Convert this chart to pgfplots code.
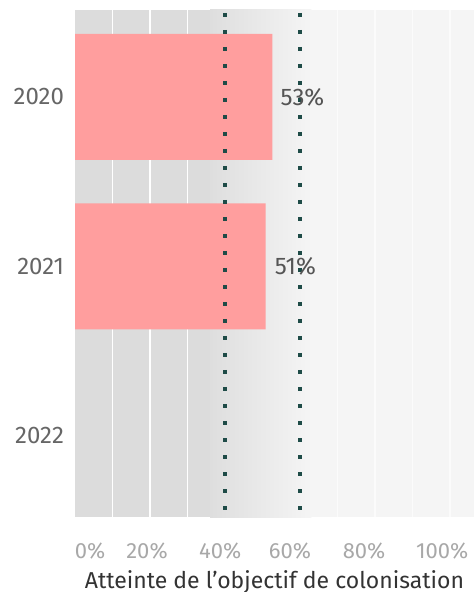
\documentclass[border=0pt]{standalone}
\usepackage{pgfplots}
\pgfplotsset{compat=1.18}
\usepackage{fontspec}
\setmainfont{Fira Sans}
\definecolor{barpink}{HTML}{FF9E9E}
\definecolor{bgdark}{HTML}{DCDCDC}
\definecolor{bglight}{HTML}{F5F5F5}
\definecolor{dotteal}{HTML}{1E4B47}
\definecolor{ticklab}{HTML}{A8A8A8}
\definecolor{yearlab}{HTML}{666666}
\definecolor{titlecol}{HTML}{333333}
\definecolor{vallab}{HTML}{555555}
\begin{document}
\begin{tikzpicture}
\begin{axis}[
  at={(0,0)}, anchor=south west,
  scale only axis,
  width=199.5pt, height=253.5pt,
  xmin=0, xmax=106.4,
  ymin=-0.513, ymax=2.478,
  y dir=reverse,
  axis line style={draw=none},
  tick style={draw=none},
  ytick={0,1,2},
  yticklabels={2020,2021,2022},
  yticklabel style={font=\fontsize{12}{14}\selectfont, text=yearlab, anchor=east, xshift=-2pt},
  xtick={4,19.2,38.7,57.3,77.1,97.9},
  xticklabels={0\%,20\%,40\%,60\%,80\%,100\%},
  xticklabel style={font=\fontsize{11}{13}\selectfont, text=ticklab, anchor=base, yshift=-20.5pt},
  xlabel={Atteinte de l'objectif de colonisation},
  xlabel style={font=\fontsize{11.5}{13}\selectfont, text=titlecol, anchor=base, at={(axis description cs:0.5,0)}, yshift=-35.5pt},
  clip=false,
]
% background bands
\fill[bgdark] (axis cs:0,-0.513) rectangle (axis cs:36,2.478);
\fill[left color=bgdark!92!bglight, right color=bglight] (axis cs:36,-0.513) rectangle (axis cs:63,2.478);
\fill[bglight] (axis cs:63,-0.513) rectangle (axis cs:106.4,2.478);
\pgfplotsinvokeforeach{10,20,30}{\draw[white, line width=0.8pt] (axis cs:#1,-0.513) -- (axis cs:#1,2.478);}
\pgfplotsinvokeforeach{70,80,90,100}{\draw[white!60!bglight, line width=0.6pt] (axis cs:#1,-0.513) -- (axis cs:#1,2.478);}
% bars
\addplot[xbar, bar width=63pt, fill=barpink, draw=none] coordinates {(52.6,0) (50.8,1)};
% reference lines
\addplot[dotteal, line width=2.2pt, dash pattern=on 2.2pt off 6.3pt, dash phase=-1.5pt] coordinates {(40,-0.513) (40,2.478)};
\addplot[dotteal, line width=2.2pt, dash pattern=on 2.2pt off 6.3pt, dash phase=-1.5pt] coordinates {(60,-0.513) (60,2.478)};
% value labels
\node[anchor=west, font=\fontsize{12}{14}\selectfont, text=vallab, inner sep=0pt, xshift=4pt] at (axis cs:52.6,0) {53\%};
\node[anchor=west, font=\fontsize{12}{14}\selectfont, text=vallab, inner sep=0pt, xshift=4.5pt] at (axis cs:50.8,1) {51\%};
\end{axis}
\pgfresetboundingbox
\path (-37.5pt,-37.5pt) rectangle (199.5pt,258.5pt);
\end{tikzpicture}
\end{document}
